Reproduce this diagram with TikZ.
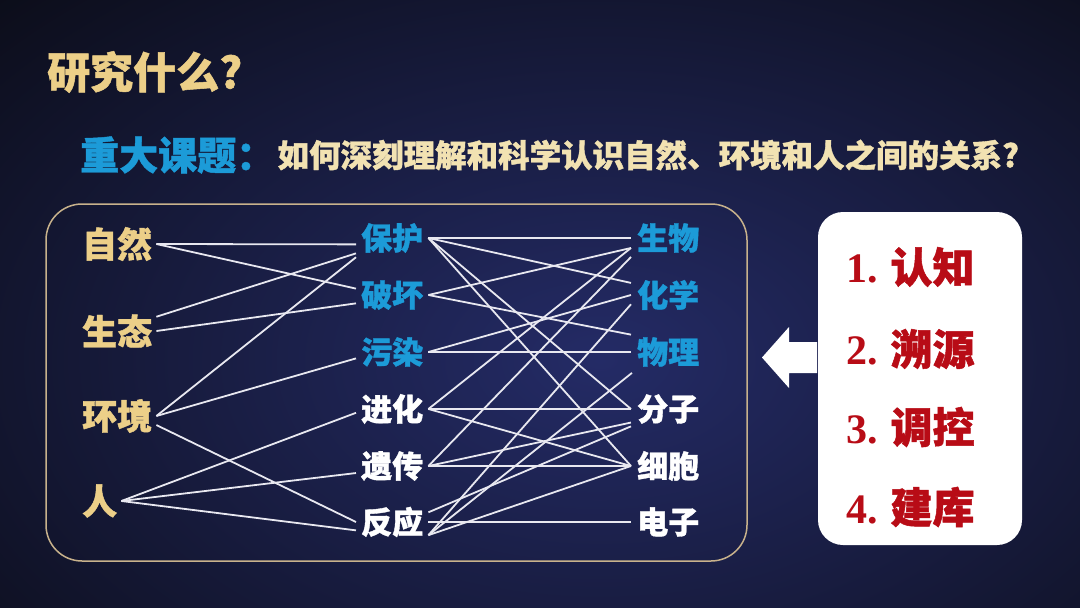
\documentclass[tikz,border=0pt]{standalone}
\usepackage{fontspec}
\setmainfont{Noto Sans CJK SC}[BoldFeatures={FakeBold=1.2}]
\newfontfamily\numfont{Liberation Serif}
\usetikzlibrary{positioning}

\definecolor{gold}{HTML}{ECCF88}
\definecolor{cream}{HTML}{F2E2B2}
\definecolor{skyblue}{HTML}{1C9BD8}
\definecolor{darkred}{HTML}{B80C16}
\definecolor{frame}{HTML}{C8B28C}
\definecolor{bgin}{HTML}{242B66}
\definecolor{bgout}{HTML}{0A0B14}
\definecolor{linkwhite}{HTML}{E8E8F0}

\tikzstyle{leftword}=[anchor=west, inner sep=4pt, text=gold, font=\bfseries\fontsize{35}{35}\selectfont]
\tikzstyle{midword}=[anchor=west, inner sep=5pt, font=\bfseries\fontsize{31}{31}\selectfont]
\tikzstyle{rightword}=[anchor=west, inner sep=6pt, font=\bfseries\fontsize{31}{31}\selectfont]
\tikzstyle{stepword}=[anchor=west, inner sep=0pt, text=darkred, font=\bfseries\fontsize{42}{42}\selectfont]
\tikzstyle{link}=[draw=linkwhite, line width=1.8pt]

\begin{document}
\begin{tikzpicture}[x=1pt,y=-1pt]

\useasboundingbox (0,0) rectangle (1080,608);
\begin{scope}
\clip (0,0) rectangle (1080,608);
\fill[bgout] (0,0) rectangle (1080,608);
\shade[inner color=bgin, outer color=bgout] (600,360) ellipse (900 and 560);
\end{scope}

% heading
\node[anchor=west, inner sep=0pt, text=gold, font=\bfseries\fontsize{43}{43}\selectfont] (title) at (47,72) {研究什么?};
\node[anchor=west, inner sep=0pt, text=skyblue, font=\bfseries\fontsize{39}{39}\selectfont] (key) at (80,155) {重大课题：};
\node[right=2pt of key, inner sep=0pt, text=cream, font=\bfseries\fontsize{31.5}{31.5}\selectfont] (question) {如何深刻理解和科学认识自然、环境和人之间的关系?};

% frame
\draw[frame, line width=1.5pt, rounded corners=36pt] (46,204) rectangle (747,561);

% left
\node[leftword] (zr) at (78,244) {自然};
\node[leftword] (st) at (78,331) {生态};
\node[leftword] (hj) at (78,416) {环境};
\node[leftword] (rn) at (78,501) {人};

% middle
\node[midword, text=skyblue] (bh) at (356,238) {保护};
\node[midword, text=skyblue] (ph) at (356,295) {破坏};
\node[midword, text=skyblue] (wr) at (356,352) {污染};
\node[midword, text=white] (jh) at (356,409) {进化};
\node[midword, text=white] (yc) at (356,466) {遗传};
\node[midword, text=white] (fy) at (356,522) {反应};

% right
\node[rightword, text=skyblue] (sw) at (631,238) {生物};
\node[rightword, text=skyblue] (hx) at (631,295) {化学};
\node[rightword, text=skyblue] (wl) at (631,352) {物理};
\node[rightword, text=white] (fz) at (631,409) {分子};
\node[rightword, text=white] (xb) at (631,466) {细胞};
\node[rightword, text=white] (dz) at (631,522) {电子};

% links
\foreach \a/\b in {zr.east/bh.190, zr.east/ph.170, st.20/bh.203, st.east/ph.193,
    hj.east/bh.208, hj.east/wr.190, hj.347/fy.west,
    rn.east/jh.186, rn.east/yc.191, rn.east/fy.193}
    \draw[link] (\a) -- (\b);

\foreach \a/\b in {bh.east/sw.west, bh.east/hx.162, bh.east/fz.west, bh.east/xb.west,
    ph.east/sw.195, ph.east/wl.155, wr.east/hx.west, wr.east/wl.west,
    jh.east/sw.195, jh.east/fz.west, jh.east/xb.west,
    yc.east/sw.207, yc.east/fz.200, yc.east/xb.west,
    fy.15/fz.205, fy.east/dz.west, fy.340/hx.194, fy.340/wl.210, fy.340/xb.west}
    \draw[link] (\a) -- (\b);

% arrow
\fill[white] (817,342) -- (789,342) -- (789,327) -- (762,357.5) -- (789,388) -- (789,373) -- (817,373) -- cycle;

% steps
\node[fill=white, rounded corners=25pt, minimum width=204pt, minimum height=333pt, inner sep=0pt] (steps) at (920,378.5) {};
\node[stepword] (s1) at (846,267) {{\numfont\bfseries 1.} 认知};
\node[stepword] (s2) at (846,349) {{\numfont\bfseries 2.} 溯源};
\node[stepword] (s3) at (846,427) {{\numfont\bfseries 3.} 调控};
\node[stepword] (s4) at (846,507) {{\numfont\bfseries 4.} 建库};

\end{tikzpicture}
\end{document}
